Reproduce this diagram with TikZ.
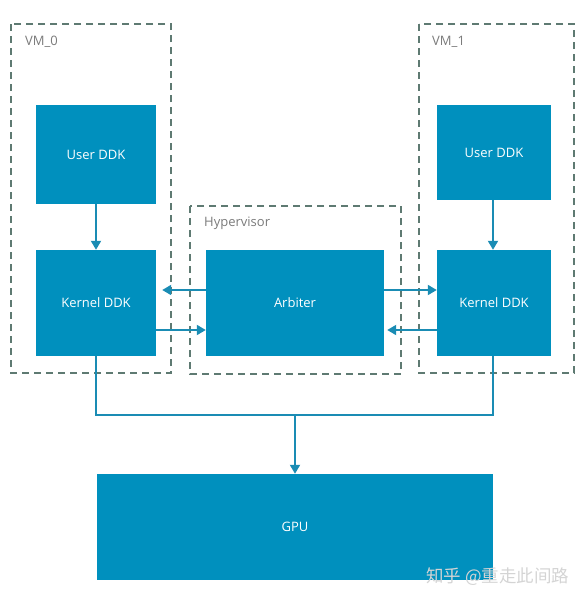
\documentclass[tikz,border=0pt]{standalone}
\usepackage{fontspec}
\setmainfont{Open Sans}
\newfontfamily\cjk{Noto Sans CJK SC}
\usetikzlibrary{arrows.meta}
\definecolor{boxblue}{HTML}{0090BE}
\definecolor{arrowblue}{HTML}{1A8CB4}
\definecolor{dashgray}{HTML}{5E7A72}
\definecolor{labelgray}{HTML}{7A7A7A}
\definecolor{wmgray}{HTML}{D4D4D4}
\tikzset{
  blk/.style={fill=boxblue, draw=none, text=white, font=\fontsize{13}{15}\selectfont, inner sep=0pt},
  grp/.style={draw=dashgray, line width=1.6pt, dash pattern=on 7pt off 5pt},
  grplabel/.style={text=labelgray, font=\fontsize{13}{15}\selectfont, anchor=west, inner sep=0pt},
  conn/.style={draw=arrowblue, line width=1.8pt, -{Triangle[width=10pt,length=9pt]}},
  plain/.style={draw=arrowblue, line width=1.8pt}
}
\begin{document}
\begin{tikzpicture}[x=1pt,y=-1pt]
\useasboundingbox (0,0) rectangle (586,605);
% groups
\draw[grp] (11,24) rectangle (171,373);
\draw[grp] (419,24) rectangle (574,373);
\draw[grp] (190,206) rectangle (401,374);
\node[grplabel] (l0) at (25,42) {VM\_0};
\node[grplabel] (l1) at (432,42) {VM\_1};
\node[grplabel] (lh) at (204,223) {Hypervisor};
% blocks
\node[blk, minimum width=120pt, minimum height=99pt] (ud0) at (96,154.5) {User DDK};
\node[blk, minimum width=120pt, minimum height=106pt] (kd0) at (96,303) {Kernel DDK};
\node[blk, minimum width=178pt, minimum height=106pt] (arb) at (295,303) {Arbiter};
\node[blk, minimum width=114pt, minimum height=95pt] (ud1) at (494,152.5) {User DDK};
\node[blk, minimum width=114pt, minimum height=106pt] (kd1) at (494,303) {Kernel DDK};
\node[blk, minimum width=396pt, minimum height=106pt] (gpu) at (295,527) {GPU};
% coordinates
\coordinate (k0b) at (96,415);
\coordinate (k1b) at (493,415);
\coordinate (mid) at (295,415);
% connectors
\draw[conn] (ud0.south) -- (kd0.north);
\draw[conn] (ud1.south -| 493,0) -- (kd1.north -| 493,0);
\draw[conn] (arb.west |- 0,290) -- ([xshift=6pt]kd0.east |- 0,290);
\draw[conn] (kd0.east |- 0,330) -- (arb.west |- 0,330);
\draw[conn] (arb.east |- 0,290) -- (kd1.west |- 0,290);
\draw[conn] (kd1.west |- 0,330) -- ([xshift=3pt]arb.east |- 0,330);
\draw[plain] (kd0.south) -- (k0b) -- (k1b) -- (kd1.south -| k1b);
\draw[conn] (mid) -- (gpu.north);
% watermark
\node[text=wmgray, font=\cjk\fontsize{17.5}{20}\selectfont, anchor=west, inner sep=0pt] (wm) at (426,577) {知乎 @重走此间路};
\end{tikzpicture}
\end{document}
